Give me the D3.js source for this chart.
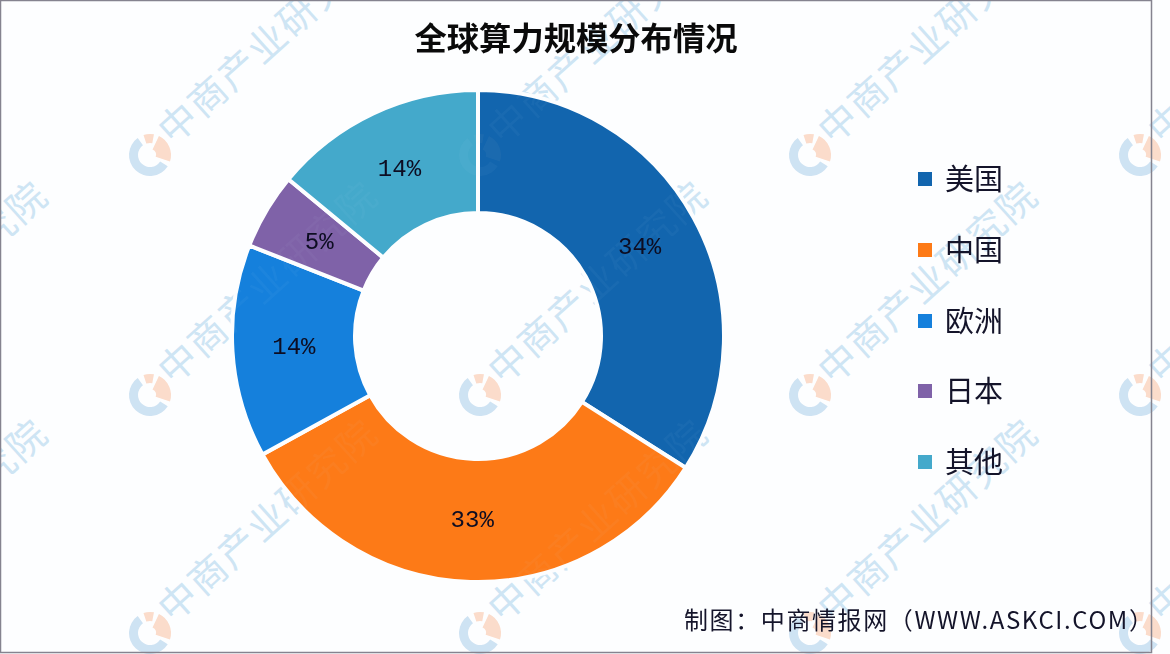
<!DOCTYPE html>
<html>
<head>
<meta charset="utf-8">
<script src="https://cdn.jsdelivr.net/npm/d3@7"></script>
<style>
html, body { margin: 0; padding: 0; background: #fff; overflow: hidden; }
svg { display: block; }
</style>
</head>
<body>
<svg id="chart" width="1170" height="654"></svg>
<script>
const titleText = '全球算力规模分布情况';
const footerText = '制图：中商情报网（WWW.ASKCI.COM）';
const categories = ['美国', '中国', '欧洲', '日本', '其他'];
const shares = [34, 33, 14, 5, 14];
const colors = ['#1265ae', '#fd7a17', '#1580dc', '#7f62a8', '#44a9cb'];
const legendRows = [177, 248, 319, 389, 460];
const markColumns = [-180, 150, 480, 810, 1140];
const markRows = [155, 395, 633];
const markText = '中商产业研究院';

const svg = d3.select('#chart');
const cx = 478, cy = 336, outerR = 246, innerR = 123;

svg.append('rect').attr('width', 1170).attr('height', 654).attr('fill', '#fdfeff');

function addMarks(opacity) {
    const logoArc = d3.arc();
    const wm = svg.append('g').attr('opacity', opacity);
    markRows.forEach(row => {
        markColumns.forEach(col => {
            const g = wm.append('g').attr('transform', `translate(${col},${row})`);
            g.append('path')
                .attr('d', logoArc({ innerRadius: 12, outerRadius: 21, startAngle: Math.PI * 0.68, endAngle: Math.PI * 1.8 }))
                .attr('fill', '#cfe3f3');
            g.append('path')
                .attr('d', logoArc({ innerRadius: 6, outerRadius: 21, startAngle: Math.PI * 0.14, endAngle: Math.PI * 0.6 }))
                .attr('fill', '#fbdccb');
            g.append('path')
                .attr('d', logoArc({ innerRadius: 12, outerRadius: 21, startAngle: -Math.PI * 0.1, endAngle: Math.PI * 0.06 }))
                .attr('fill', '#fbdccb');
            g.append('text')
                .attr('transform', 'translate(23,-9) rotate(-42)')
                .attr('font-family', '"Noto Sans CJK SC"')
                .attr('font-weight', 400)
                .attr('font-size', 38)
                .attr('letter-spacing', 2)
                .attr('fill', '#cfe5f4')
                .text(markText);
        });
    });
}

// watermark under the donut
addMarks(1);

// donut
const pie = d3.pie().value(d => d).sort(null);
const arc = d3.arc().innerRadius(innerR).outerRadius(outerR);
const donut = svg.append('g').attr('transform', `translate(${cx},${cy})`);
donut.selectAll('path')
    .data(pie(shares))
    .join('path')
    .attr('d', arc)
    .attr('fill', (d, i) => colors[i])
    .attr('stroke', '#fdfeff')
    .attr('stroke-width', 4);

// very faint copy of the watermark shows through the slices
addMarks(0.04);

svg.append('g').attr('transform', `translate(${cx},${cy})`)
    .selectAll('text')
    .data(pie(shares))
    .join('text')
    .attr('transform', d => `translate(${arc.centroid(d)})`)
    .attr('text-anchor', 'middle')
    .attr('dominant-baseline', 'central')
    .attr('font-family', '"Liberation Mono", monospace')
    .attr('font-size', 24)
    .attr('fill', '#0d0d22')
    .text(d => d.data + '%');

// title
svg.append('text')
    .attr('x', 576).attr('y', 50)
    .attr('text-anchor', 'middle')
    .attr('font-family', '"Noto Sans CJK SC"')
    .attr('font-weight', 700)
    .attr('font-size', 32.3)
    .attr('fill', '#0a0a0a')
    .text(titleText);

// legend
const legend = svg.append('g').selectAll('g')
    .data(categories)
    .join('g')
    .attr('transform', (d, i) => `translate(918,${legendRows[i]})`);
legend.append('rect')
    .attr('y', -5).attr('width', 14).attr('height', 14)
    .attr('fill', (d, i) => colors[i]);
legend.append('text')
    .attr('x', 27)
    .attr('dominant-baseline', 'central')
    .attr('font-family', '"Noto Sans CJK SC"')
    .attr('font-size', 29)
    .attr('fill', '#14142a')
    .text(d => d);

// footer
svg.append('text')
    .attr('x', 684).attr('y', 629)
    .attr('font-family', '"Noto Sans CJK SC"')
    .attr('font-size', 24)
    .attr('letter-spacing', 1.6)
    .attr('fill', '#14142a')
    .text(footerText);

// frame lines
svg.append('rect')
    .attr('x', 0.5).attr('y', 0.5).attr('width', 1151).attr('height', 652)
    .attr('fill', 'none')
    .attr('stroke', '#85838f')
    .attr('stroke-width', 1.5);
</script>
</body>
</html>
